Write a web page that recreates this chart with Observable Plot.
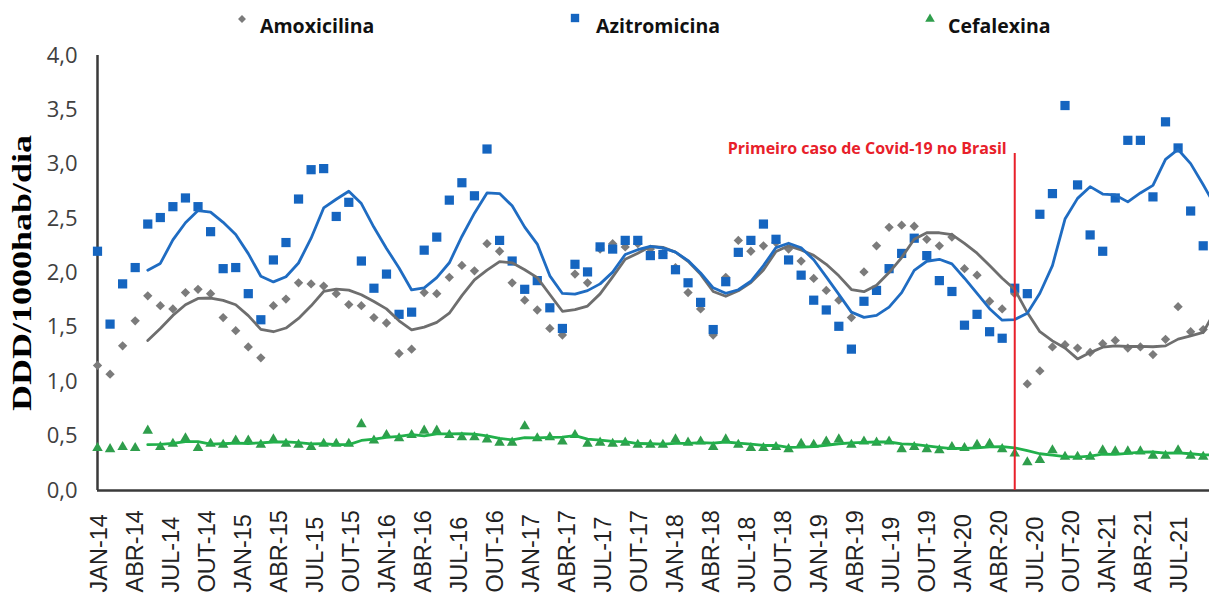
<!DOCTYPE html>
<html><head><meta charset="utf-8">
<script src="https://cdn.jsdelivr.net/npm/d3@7"></script>
<script src="https://cdn.jsdelivr.net/npm/@observablehq/plot@0.6"></script>
<style>
html,body{margin:0;padding:0;background:#fff;overflow:hidden;}
#wrap{position:relative;width:1209px;height:594px;overflow:hidden;background:#fff;}
#legend{position:absolute;left:0;top:0;}
#chart,#xlabels{position:absolute;left:0;top:40px;}
</style></head><body>
<div id="wrap"><div id="legend"></div><div id="chart"></div><div id="xlabels"></div></div>
<script>
// ---- data (index 0 = JAN-14, one value per month) ----
const seriesNames = ["Amoxicilina", "Azitromicina", "Cefalexina"];
const amoxicilina = [1.15,1.07,1.33,1.56,1.79,1.70,1.67,1.82,1.85,1.81, 1.59,1.47,1.32,1.22,1.70,1.76,1.91,1.90,1.88,1.81, 1.71,1.70,1.59,1.54,1.26,1.30,1.82,1.81,1.96,2.07, 2.02,2.27,2.20,1.91,1.75,1.66,1.49,1.43,1.99,1.91, 2.22,2.27,2.24,2.27,2.22,2.18,2.05,1.82,1.67,1.43, 1.96,2.30,2.20,2.25,2.28,2.22,2.11,1.95,1.84,1.75, 1.59,2.01,2.25,2.42,2.44,2.43,2.31,2.25,2.33,2.04, 1.98,1.74,1.67,1.81,0.98,1.10,1.32,1.34,1.31,1.27, 1.35,1.38,1.31,1.32,1.25,1.39,1.69,1.46,1.48,2.30];
const azitromicina = [2.20,1.53,1.90,2.05,2.45,2.51,2.61,2.69,2.61,2.38, 2.04,2.05,1.81,1.57,2.12,2.28,2.68,2.95,2.96,2.52, 2.65,2.11,1.86,1.99,1.62,1.64,2.21,2.33,2.67,2.83, 2.71,3.14,2.30,2.11,1.85,1.93,1.68,1.49,2.08,2.01, 2.24,2.22,2.30,2.30,2.16,2.17,2.03,1.91,1.73,1.48, 1.92,2.19,2.30,2.45,2.31,2.12,1.98,1.75,1.66,1.51, 1.30,1.74,1.84,2.04,2.18,2.32,2.16,1.93,1.83,1.52, 1.62,1.46,1.40,1.86,1.81,2.54,2.73,3.54,2.81,2.35, 2.20,2.69,3.22,3.22,2.70,3.39,3.15,2.57,2.25,1.67];
const cefalexina = [0.39,0.38,0.40,0.39,0.55,0.40,0.43,0.48,0.39,0.43, 0.42,0.46,0.46,0.42,0.47,0.43,0.42,0.40,0.43,0.43, 0.43,0.61,0.46,0.51,0.48,0.51,0.55,0.55,0.51,0.49, 0.49,0.47,0.44,0.44,0.59,0.48,0.49,0.45,0.51,0.43, 0.44,0.43,0.44,0.42,0.42,0.42,0.47,0.44,0.45,0.40, 0.47,0.42,0.39,0.39,0.40,0.38,0.43,0.42,0.45,0.47, 0.42,0.45,0.44,0.45,0.38,0.40,0.38,0.37,0.40,0.39, 0.42,0.43,0.38,0.34,0.26,0.28,0.37,0.31,0.31,0.31, 0.37,0.36,0.36,0.36,0.32,0.32,0.37,0.32,0.31,0.31];
const xTickLabels = ["JAN-14","ABR-14","JUL-14","OUT-14","JAN-15","ABR-15","JUL-15","OUT-15","JAN-16","ABR-16","JUL-16","OUT-16","JAN-17","ABR-17","JUL-17","OUT-17","JAN-18","ABR-18","JUL-18","OUT-18","JAN-19","ABR-19","JUL-19","OUT-19","JAN-20","ABR-20","JUL-20","OUT-20","JAN-21","ABR-21","JUL-21"];
const yTicks = [0, 0.5, 1, 1.5, 2, 2.5, 3, 3.5, 4];
const yTitle = "DDD/1000hab/dia";
const covidIndex = 73;      // FEV-20
const covidTop = 3.1;
const covidLabel = "Primeiro caso de Covid-19 no Brasil";

// ---- styles ----
const dotColors = ["#7b7b7b", "#1565c0", "#2f9e4c"];
const lineColors = ["#6e6e6e", "#1f6cc2", "#22b04b"];
const symbols = ["diamond2", "square", "triangle"];
const radii = [4.2, 5.2, 3.9];
const red = "#e8202a";
const axisColor = "#3a3a3a";

const values = [amoxicilina, azitromicina, cefalexina];
const data = values.map((arr, s) => arr.map((v, i) => ({series: seriesNames[s], i, v})));

const dotMarks = data.map((d, s) => Plot.dot(d, {x: "i", y: "v", symbol: symbols[s], r: radii[s], fill: dotColors[s]}));
const lineMarks = data.map((d, s) => Plot.lineY(d, Plot.windowY({k: 5, anchor: "end", strict: true}, {x: "i", y: "v", stroke: lineColors[s], strokeWidth: 2.8})));

const chart = Plot.plot({
  width: 1209, height: 554,
  marginLeft: 97, marginRight: 0, marginTop: 15, marginBottom: 104,
  x: {domain: [0, 88.5], axis: null},
  y: {domain: [0, 4], axis: null},
  style: {fontFamily: "'Open Sans', sans-serif", background: "transparent"},
  marks: [
    Plot.axisY(yTicks, {tickSize: 0, tickPadding: 20, tickFormat: d => d.toFixed(1).replace(".", ","), fontSize: 22, fill: "#404040", label: null}),
    Plot.text([yTitle], {text: d => d, frameAnchor: "left", textAnchor: "middle", rotate: -90, dx: -75, fontFamily: "'Liberation Serif', 'Times New Roman', serif", fontWeight: 700, fontSize: 28, fill: "#000"}),
    Plot.ruleX([0], {y1: 0, y2: 4, stroke: axisColor, strokeWidth: 2.5}),
    Plot.ruleY([0], {stroke: axisColor, strokeWidth: 2.5}),
    dotMarks[0], dotMarks[1], dotMarks[2],
    lineMarks[0], lineMarks[1], lineMarks[2],
    Plot.ruleX([{i: covidIndex, top: covidTop}], {x: "i", y1: 0, y2: "top", stroke: red, strokeWidth: 2}),
    Plot.text([{i: covidIndex, top: covidTop, label: covidLabel}], {x: "i", y: "top", text: "label", textAnchor: "end", dx: -8, dy: -5, fill: red, fontWeight: 700, fontSize: 16})
  ]
});
// the original title is drawn condensed-wide: stretch it to the same length
d3.select(chart).selectAll("text").filter(function() { return this.textContent === yTitle; })
  .attr("textLength", 276).attr("lengthAdjust", "spacingAndGlyphs");
document.getElementById("chart").appendChild(chart);

// x tick labels (category axis of the original)
const xaxis = Plot.plot({
  width: 1209, height: 554,
  marginLeft: 0, marginRight: 0, marginTop: 0, marginBottom: 0,
  x: {type: "point", domain: xTickLabels, range: [106, 1186], padding: 0, axis: null},
  y: {axis: null},
  style: {background: "transparent"},
  marks: [
    Plot.text(xTickLabels, {x: d => d, text: d => d, frameAnchor: "bottom", rotate: -90, textAnchor: "start", dy: -2, fontSize: 23.5, fontFamily: "'Liberation Sans', Arial, sans-serif", fill: "#222"})
  ]
});
document.getElementById("xlabels").appendChild(xaxis);

// legend
const legendPos = [{m: [242, 19], t: 260}, {m: [575, 18], t: 596}, {m: [930, 19], t: 948}];
const leg = d3.select("#legend").append("svg").attr("width", 1209).attr("height", 40);
const symTypes = [d3.symbolDiamond2, d3.symbolSquare, d3.symbolTriangle];
const symSizes = [40, 70, 40];
seriesNames.forEach((name, s) => {
  leg.append("path").attr("d", d3.symbol(symTypes[s], symSizes[s])()).attr("transform", `translate(${legendPos[s].m})`).attr("fill", dotColors[s]);
  leg.append("text").attr("x", legendPos[s].t).attr("y", 33).text(name)
    .attr("font-family", "'Open Sans', sans-serif").attr("font-weight", 700).attr("font-size", 19.5).attr("fill", "#111");
});
</script>
</body></html>
